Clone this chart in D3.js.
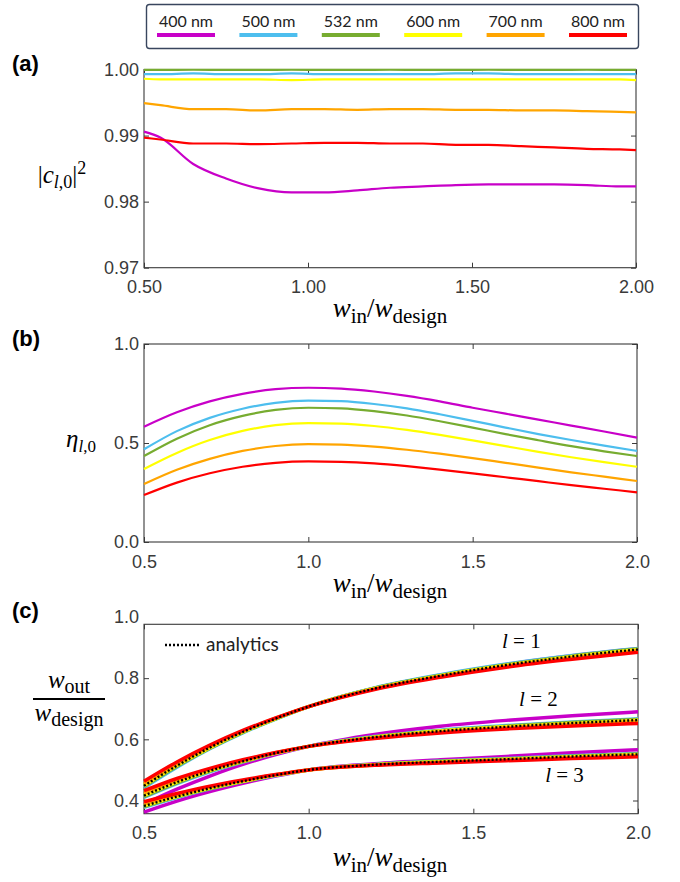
<!DOCTYPE html>
<html>
<head>
<meta charset="utf-8">
<script src="https://cdn.jsdelivr.net/npm/d3@7"></script>
<style>
  body { margin: 0; background: #fff; }
  svg { display: block; }
</style>
</head>
<body>
<svg id="fig" width="680" height="882"></svg>
<script>
// ---------- series names and colours ----------
const wavelengths = ["400 nm", "500 nm", "532 nm", "600 nm", "700 nm", "800 nm"];
const lineColors = ["#c800c8", "#4dbeee", "#77ac30", "#ffff00", "#ffa500", "#ff0000"];

// ---------- (a) |c_{l,0}|^2 versus w_in/w_design ----------
const ratioA = [0.50, 0.55, 0.65, 0.75, 0.85, 0.95, 1.05, 1.15, 1.25, 1.35, 1.45, 1.55, 1.65, 1.75, 1.85, 1.95, 2.00];
const overlap400 = [0.9906, 0.9897, 0.9857, 0.9835, 0.9820, 0.9814, 0.9814, 0.9817, 0.9821, 0.9823, 0.9825, 0.9826, 0.9826, 0.9826, 0.9825, 0.9823, 0.9823];
const overlap500 = [0.9993, 0.9993, 0.9994, 0.9993, 0.9993, 0.9994, 0.9993, 0.9993, 0.9993, 0.9993, 0.9994, 0.9994, 0.9993, 0.9993, 0.9993, 0.9993, 0.9993];
const overlap532 = [0.99995, 0.99994, 0.99996, 0.99995, 0.99994, 0.99996, 0.99995, 0.99995, 0.99996, 0.99995, 0.99995, 0.99996, 0.99995, 0.99995, 0.99996, 0.99995, 0.99995];
const overlap600 = [0.9986, 0.9985, 0.9985, 0.9985, 0.9985, 0.9984, 0.9985, 0.9985, 0.9985, 0.9985, 0.9985, 0.9985, 0.9985, 0.9985, 0.9985, 0.9985, 0.9984];
const overlap700 = [0.9949, 0.9946, 0.9940, 0.9940, 0.9938, 0.9940, 0.9940, 0.9939, 0.9940, 0.9940, 0.9939, 0.9939, 0.9938, 0.9938, 0.9937, 0.9936, 0.9935];
const overlap800 = [0.9897, 0.9894, 0.9888, 0.9888, 0.9887, 0.9888, 0.9889, 0.9889, 0.9888, 0.9888, 0.9886, 0.9886, 0.9884, 0.9882, 0.9880, 0.9879, 0.9878];
const ticksA_x = [0.5, 1.0, 1.5, 2.0];
const ticksA_y = [0.97, 0.98, 0.99, 1.00];

// ---------- (b) eta_{l,0} versus w_in/w_design ----------
const ratioB = [0.5, 0.6, 0.7, 0.8, 0.9, 1.0, 1.1, 1.2, 1.3, 1.4, 1.5, 1.6, 1.7, 1.8, 1.9, 2.0];
const eff400 = [0.582, 0.655, 0.710, 0.748, 0.772, 0.779, 0.775, 0.760, 0.738, 0.710, 0.678, 0.648, 0.618, 0.588, 0.558, 0.527];
const eff500 = [0.468, 0.560, 0.627, 0.673, 0.703, 0.714, 0.711, 0.697, 0.675, 0.645, 0.612, 0.578, 0.545, 0.515, 0.487, 0.460];
const eff532 = [0.434, 0.522, 0.590, 0.637, 0.667, 0.678, 0.675, 0.661, 0.639, 0.610, 0.578, 0.545, 0.514, 0.484, 0.458, 0.434];
const eff600 = [0.369, 0.450, 0.515, 0.561, 0.590, 0.600, 0.598, 0.586, 0.566, 0.541, 0.513, 0.484, 0.455, 0.428, 0.403, 0.380];
const eff700 = [0.293, 0.365, 0.420, 0.460, 0.485, 0.494, 0.492, 0.482, 0.466, 0.446, 0.424, 0.400, 0.376, 0.352, 0.330, 0.308];
const eff800 = [0.237, 0.300, 0.347, 0.380, 0.400, 0.407, 0.405, 0.397, 0.383, 0.366, 0.347, 0.327, 0.307, 0.287, 0.269, 0.251];
const ticksB_x = [0.5, 1.0, 1.5, 2.0];
const ticksB_y = [0.0, 0.5, 1.0];

// ---------- (c) w_out/w_design versus w_in/w_design ----------
const ratioC = [0.5, 0.6, 0.7, 0.8, 0.9, 1.0, 1.2, 1.4, 1.6, 1.8, 2.0];
// l = 1
const analyticsL1 = [0.448, 0.514, 0.573, 0.624, 0.668, 0.707, 0.766, 0.808, 0.843, 0.871, 0.894];
const outL1 = [
  [0.447, 0.513, 0.572, 0.624, 0.668, 0.707, 0.767, 0.810, 0.845, 0.873, 0.896],
  [0.442, 0.509, 0.569, 0.621, 0.666, 0.707, 0.768, 0.811, 0.846, 0.874, 0.897],
  [0.446, 0.512, 0.571, 0.623, 0.667, 0.707, 0.767, 0.809, 0.844, 0.872, 0.895],
  [0.449, 0.515, 0.573, 0.624, 0.668, 0.707, 0.766, 0.808, 0.842, 0.870, 0.893],
  [0.455, 0.519, 0.576, 0.626, 0.669, 0.707, 0.765, 0.806, 0.840, 0.867, 0.890],
  [0.463, 0.526, 0.581, 0.629, 0.670, 0.707, 0.763, 0.803, 0.836, 0.862, 0.885]
];
// l = 2
const analyticsL2 = [0.416, 0.460, 0.497, 0.528, 0.555, 0.577, 0.607, 0.627, 0.641, 0.653, 0.663];
const outL2 = [
  [0.388, 0.437, 0.480, 0.518, 0.550, 0.577, 0.616, 0.643, 0.662, 0.677, 0.690],
  [0.410, 0.455, 0.494, 0.526, 0.554, 0.577, 0.609, 0.630, 0.645, 0.657, 0.667],
  [0.413, 0.458, 0.496, 0.527, 0.555, 0.577, 0.608, 0.628, 0.643, 0.655, 0.665],
  [0.417, 0.461, 0.498, 0.528, 0.555, 0.577, 0.607, 0.627, 0.641, 0.652, 0.662],
  [0.424, 0.466, 0.501, 0.530, 0.556, 0.577, 0.605, 0.624, 0.638, 0.649, 0.658],
  [0.432, 0.472, 0.505, 0.533, 0.557, 0.577, 0.603, 0.621, 0.634, 0.644, 0.652]
];
// l = 3
const analyticsL3 = [0.382, 0.413, 0.440, 0.463, 0.483, 0.500, 0.517, 0.527, 0.535, 0.544, 0.551];
const outL3 = [
  [0.362, 0.398, 0.429, 0.456, 0.480, 0.500, 0.520, 0.533, 0.544, 0.556, 0.566],
  [0.378, 0.410, 0.438, 0.462, 0.482, 0.500, 0.518, 0.529, 0.537, 0.546, 0.553],
  [0.380, 0.412, 0.439, 0.462, 0.483, 0.500, 0.517, 0.528, 0.536, 0.545, 0.552],
  [0.383, 0.414, 0.441, 0.463, 0.483, 0.500, 0.517, 0.527, 0.535, 0.543, 0.550],
  [0.389, 0.418, 0.443, 0.465, 0.484, 0.500, 0.516, 0.525, 0.533, 0.540, 0.547],
  [0.396, 0.423, 0.447, 0.467, 0.485, 0.500, 0.515, 0.523, 0.530, 0.537, 0.543]
];
const ticksC_x = [0.5, 1.0, 1.5, 2.0];
const ticksC_y = [0.4, 0.6, 0.8, 1.0];

// ---------- drawing ----------
const svg = d3.select("#fig");
const SANS = "'Liberation Sans', Arial, Helvetica, sans-serif";
const SERIF = "'Liberation Serif', 'DejaVu Serif', serif";
const AXIS_COLOR = "#3a3a3a";

function boxAxes(g, x, y, xt, yt, fmtX, fmtY) {
  const [x0, x1] = x.range();
  const [y0, y1] = y.range(); // y0 bottom, y1 top
  const yd = y.domain();
  const inY = v => v >= Math.min(...yd) - 1e-9 && v <= Math.max(...yd) + 1e-9;

  const styleAxis = sel => {
    sel.select(".domain").remove();
    sel.attr("font-size", 18).attr("font-family", SANS).style("color", AXIS_COLOR);
    sel.selectAll(".tick line").attr("stroke-width", 1);
  };

  g.append("g").attr("transform", `translate(0,${y0})`)
    .call(d3.axisBottom(x).tickValues(xt).tickFormat(fmtX).tickSizeInner(-5).tickSizeOuter(0).tickPadding(13))
    .call(styleAxis);
  g.append("g").attr("transform", `translate(0,${y1})`)
    .call(d3.axisTop(x).tickValues(xt).tickFormat("").tickSizeInner(-5).tickSizeOuter(0))
    .call(styleAxis);
  const left = g.append("g").attr("transform", `translate(${x0},0)`)
    .call(d3.axisLeft(y).tickValues(yt).tickFormat(fmtY).tickSizeInner(-5).tickSizeOuter(0).tickPadding(5))
    .call(styleAxis);
  left.selectAll(".tick").filter(d => !inY(d)).select("line").remove();
  g.append("g").attr("transform", `translate(${x1},0)`)
    .call(d3.axisRight(y).tickValues(yt.filter(inY)).tickFormat("").tickSizeInner(-5).tickSizeOuter(0))
    .call(styleAxis);

  g.append("rect")
    .attr("x", x0).attr("y", y1)
    .attr("width", x1 - x0).attr("height", y0 - y1)
    .attr("fill", "none").attr("stroke", AXIS_COLOR).attr("stroke-width", 1.1);
}

function xTitle(cx, baseline) {
  const t = svg.append("text")
    .attr("x", cx).attr("y", baseline)
    .attr("text-anchor", "middle")
    .attr("font-family", SERIF).attr("font-size", 27).attr("fill", "#000");
  t.append("tspan").attr("font-style", "italic").text("w");
  t.append("tspan").attr("font-size", 21).attr("dy", 6).text("in");
  t.append("tspan").attr("dy", -6).text("/");
  t.append("tspan").attr("font-style", "italic").text("w");
  t.append("tspan").attr("font-size", 21).attr("dy", 6).text("design");
}

function panelTag(label, x, y) {
  svg.append("text").attr("x", x).attr("y", y)
    .attr("font-family", SANS).attr("font-weight", "bold").attr("font-size", 22)
    .attr("fill", "#000").text(label);
}

// ---------- legend ----------
const legend = svg.append("g");
legend.append("rect")
  .attr("x", 146.5).attr("y", 4.5).attr("width", 492).attr("height", 44)
  .attr("rx", 3).attr("fill", "#fff").attr("stroke", "#39465e").attr("stroke-width", 1.4);
const legX = d3.scalePoint().domain(wavelengths).range([186, 598]);
wavelengths.forEach((name, i) => {
  legend.append("text")
    .attr("x", legX(name)).attr("y", 27)
    .attr("text-anchor", "middle")
    .attr("font-family", "Lato, 'Open Sans', sans-serif").attr("font-size", 16)
    .attr("fill", "#222").text(name);
  legend.append("line")
    .attr("x1", legX(name) - 29).attr("x2", legX(name) + 29)
    .attr("y1", 35).attr("y2", 35)
    .attr("stroke", lineColors[i]).attr("stroke-width", 4);
});

// ---------- panel (a) ----------
{
  const x = d3.scaleLinear().domain([0.5, 2.0]).range([144, 636]);
  const y = d3.scaleLinear().domain([0.97, 1.00]).range([267.7, 69.5]);
  const g = svg.append("g");
  boxAxes(g, x, y, ticksA_x, ticksA_y, d3.format(".2f"), d3.format(".2f"));
  const series = [overlap400, overlap500, overlap532, overlap600, overlap700, overlap800];
  const line = d3.line().x((d, i) => x(ratioA[i])).y(d => y(d)).curve(d3.curveMonotoneX);
  // draw in the order in which they stack visually
  [0, 5, 4, 3, 1, 2].forEach(k => {
    g.append("path").attr("d", line(series[k]))
      .attr("fill", "none").attr("stroke", lineColors[k]).attr("stroke-width", 2.2)
      .attr("stroke-linejoin", "round");
  });
  panelTag("(a)", 12, 71);
  xTitle(390, 317);
  const t = svg.append("text").attr("x", 62).attr("y", 183)
    .attr("text-anchor", "middle").attr("font-family", SERIF).attr("font-size", 25).attr("fill", "#000");
  t.append("tspan").text("|");
  t.append("tspan").attr("font-style", "italic").text("c");
  t.append("tspan").attr("font-size", 18).attr("font-style", "italic").attr("dy", 5).text("l");
  t.append("tspan").attr("font-size", 18).text(",0");
  t.append("tspan").attr("dy", -5).text("|");
  t.append("tspan").attr("font-size", 18).attr("dy", -9).text("2");
}

// ---------- panel (b) ----------
{
  const x = d3.scaleLinear().domain([0.5, 2.0]).range([144, 637]);
  const y = d3.scaleLinear().domain([0.0, 1.0]).range([542, 344]);
  const g = svg.append("g");
  boxAxes(g, x, y, ticksB_x, ticksB_y, d3.format(".1f"), d3.format(".1f"));
  const series = [eff400, eff500, eff532, eff600, eff700, eff800];
  const line = d3.line().x((d, i) => x(ratioB[i])).y(d => y(d)).curve(d3.curveMonotoneX);
  series.forEach((s, k) => {
    g.append("path").attr("d", line(s))
      .attr("fill", "none").attr("stroke", lineColors[k]).attr("stroke-width", 2.2);
  });
  panelTag("(b)", 12, 346);
  xTitle(390, 592);
  const t = svg.append("text").attr("x", 81).attr("y", 447)
    .attr("text-anchor", "middle").attr("font-family", SERIF).attr("font-size", 25).attr("fill", "#000");
  t.append("tspan").attr("font-style", "italic").text("η");
  t.append("tspan").attr("font-size", 17).attr("font-style", "italic").attr("dy", 5).text("l");
  t.append("tspan").attr("font-size", 17).text(",0");
}

// ---------- panel (c) ----------
{
  const x = d3.scaleLinear().domain([0.5, 2.0]).range([144, 638]);
  const y = d3.scaleLinear().domain([0.4, 1.0]).range([800.5, 617]);
  y.domain([y.invert(813.7), y.invert(624.3)]).range([813.7, 624.3]);
  const g = svg.append("g");
  boxAxes(g, x, y, ticksC_x, ticksC_y, d3.format(".1f"), d3.format(".1f"));
  const line = d3.line().x((d, i) => x(ratioC[i])).y(d => y(d)).curve(d3.curveMonotoneX);
  const groups = [[outL1, analyticsL1], [outL2, analyticsL2], [outL3, analyticsL3]];
  groups.forEach(([bundle, analytic]) => {
    bundle.forEach((s, k) => {
      g.append("path").attr("d", line(s))
        .attr("fill", "none").attr("stroke", lineColors[k]).attr("stroke-width", 3.5);
    });
    g.append("path").attr("d", line(analytic))
      .attr("fill", "none").attr("stroke", "#000").attr("stroke-width", 2.4)
      .attr("stroke-dasharray", "2,2");
  });

  // order labels
  const orderLabels = [
    { text: "1", x: 1.587, y: 0.899 },
    { text: "2", x: 1.639, y: 0.709 },
    { text: "3", x: 1.718, y: 0.461 }
  ];
  orderLabels.forEach(o => {
    const t = g.append("text").attr("x", x(o.x)).attr("y", y(o.y))
      .attr("font-family", SERIF).attr("font-size", 21).attr("fill", "#000");
    t.append("tspan").attr("font-style", "italic").text("l");
    t.append("tspan").text(" = " + o.text);
  });

  // analytics key
  g.append("line").attr("x1", 165).attr("x2", 199).attr("y1", 645).attr("y2", 645)
    .attr("stroke", "#000").attr("stroke-width", 2.4).attr("stroke-dasharray", "2,2");
  g.append("text").attr("x", 206).attr("y", 651)
    .attr("font-family", "Lato, 'Open Sans', sans-serif").attr("font-size", 19)
    .attr("fill", "#222").text("analytics");

  panelTag("(c)", 12, 618);
  xTitle(390, 866);

  // fraction label on the y axis
  const num = svg.append("text").attr("x", 69).attr("y", 688)
    .attr("text-anchor", "middle").attr("font-family", SERIF).attr("font-size", 25).attr("fill", "#000");
  num.append("tspan").attr("font-style", "italic").text("w");
  num.append("tspan").attr("font-size", 20).attr("dy", 5).text("out");
  svg.append("line").attr("x1", 33).attr("x2", 105).attr("y1", 699).attr("y2", 699)
    .attr("stroke", "#000").attr("stroke-width", 2);
  const den = svg.append("text").attr("x", 69).attr("y", 721)
    .attr("text-anchor", "middle").attr("font-family", SERIF).attr("font-size", 25).attr("fill", "#000");
  den.append("tspan").attr("font-style", "italic").text("w");
  den.append("tspan").attr("font-size", 20).attr("dy", 5).text("design");
}
</script>
</body>
</html>
